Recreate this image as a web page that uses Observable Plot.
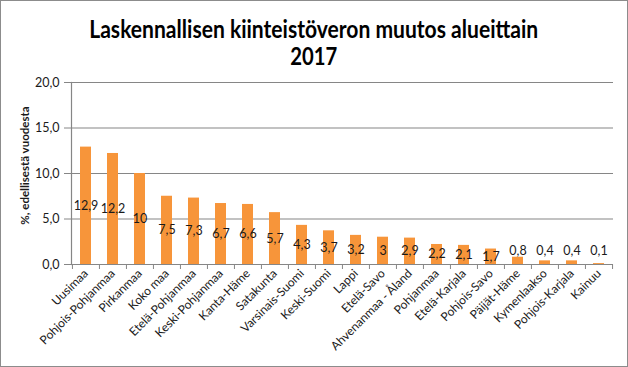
<!DOCTYPE html>
<html><head><meta charset="utf-8">
<script src="https://cdn.jsdelivr.net/npm/d3@7"></script>
<script src="https://cdn.jsdelivr.net/npm/@observablehq/plot@0.6"></script>
<style>
body{margin:0;background:#fff;}
#wrap{width:628px;height:367px;box-sizing:border-box;border:1px solid #8c8c8c;overflow:hidden;font-family:Lato,sans-serif;background:#fff;}
#title{width:626px;height:69px;box-sizing:border-box;padding-top:14px;text-align:center;font-weight:bold;font-size:24px;line-height:27px;color:#000;}
#title span{display:inline-block;white-space:nowrap;transform-origin:50% 50%;}
#chart svg{display:block;}
</style>
</head><body>
<div id="wrap">
  <div id="title"><span id="t1">Laskennallisen kiinteistöveron muutos alueittain</span><br><span id="t2">2017</span></div>
  <div id="chart"></div>
</div>
<script>
const categories = ["Uusimaa","Pohjois-Pohjanmaa","Pirkanmaa","Koko maa","Etelä-Pohjanmaa","Keski-Pohjanmaa","Kanta-Häme","Satakunta","Varsinais-Suomi","Keski-Suomi","Lappi","Etelä-Savo","Ahvenanmaa - Åland","Pohjanmaa","Etelä-Karjala","Pohjois-Savo","Päijät-Häme","Kymenlaakso","Pohjois-Karjala","Kainuu"];
const values = [12.9,12.2,10,7.5,7.3,6.7,6.6,5.7,4.3,3.7,3.2,3,2.9,2.2,2.1,1.7,0.8,0.4,0.4,0.1];
const yTicks = [0,5,10,15,20];
const yLabel = "%, edellisestä vuodesta";

const data = categories.map((c,i)=>({cat:c, v:values[i]}));
const W = 626, H = 296, mL = 70, mR = 14, mT = 12, mB = 102;
const step = (W - mL - mR) / categories.length;
const fmt = v => String(v).replace(".", ",");
const grid = "#868686";

const chart = Plot.plot({
  width: W, height: H,
  marginLeft: mL, marginRight: mR, marginTop: mT, marginBottom: mB,
  style: {fontFamily: "Lato, sans-serif", fontSize: "12px", color: "#1a1a1a", background: "#fff"},
  x: {domain: categories, paddingInner: 0.6, paddingOuter: 0.3},
  y: {domain: [0,20]},
  marks: [
    Plot.ruleY(yTicks, {stroke: grid, strokeWidth: 1.2}),
    Plot.barY(data, {x: "cat", y: "v", fill: "#f7953a"}),
    Plot.frame({anchor: "left", stroke: grid, strokeWidth: 1.2}),
    Plot.ruleX(categories, {x: d=>d, dx: -step/2, y1: 0, y2: -0.55, stroke: grid, clip: false}),
    Plot.ruleX(categories.slice(-1), {x: d=>d, dx: step/2, y1: 0, y2: -0.55, stroke: grid, clip: false}),
    Plot.text(data, {x: "cat", y: d => d.v < 1 ? 1.5 : d.v/2, text: d => fmt(d.v), fill: "#1a1a1a", fontSize: 12.5}),
    Plot.axisY({ticks: yTicks, tickFormat: d => d.toFixed(1).replace(".", ","), tickSize: 7, tickPadding: 5, stroke: grid, fontSize: 12.5, label: null}),
    Plot.text([yLabel], {frameAnchor: "left", text: d => d, rotate: -90, textAnchor: "middle", lineAnchor: "middle", dx: -46, dy: -8, fontWeight: "bold", fontSize: 11.5, fill: "#1a1a1a"}),
    Plot.axisX({tickRotate: -45, tickSize: 0, tickPadding: 7, label: null, fontSize: 12})
  ]
});
document.getElementById("chart").appendChild(chart);

function fit(id, target){
  const el = document.getElementById(id);
  const w = el.getBoundingClientRect().width;
  el.style.transform = `scaleX(${target/w})`;
}
fit("t1", 449);
fit("t2", 47);
</script>
</body></html>
